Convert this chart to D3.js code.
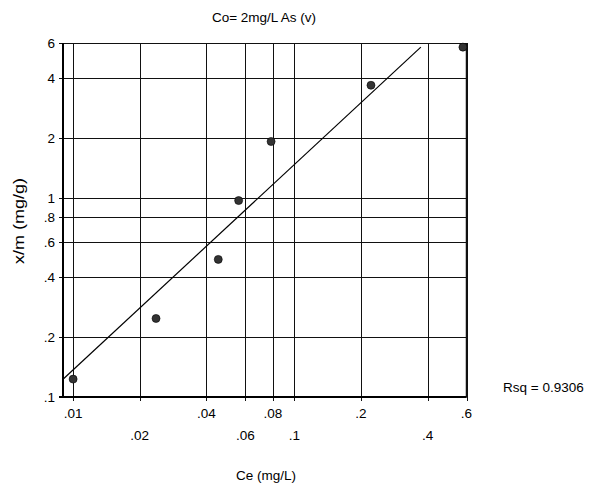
<!DOCTYPE html>
<html>
<head>
<meta charset="utf-8">
<script src="https://cdn.jsdelivr.net/npm/d3@7"></script>
<style>
  body { margin: 0; background: #fff; }
  svg { display: block; font-family: "Liberation Sans", Arial, sans-serif; }
</style>
</head>
<body>
<svg id="chart" width="590" height="486"></svg>
<script>
// data
const ce = [0.01, 0.0237, 0.0453, 0.056, 0.0785, 0.222, 0.578];
const xm = [0.123, 0.248, 0.491, 0.97, 1.92, 3.68, 5.72];
// fitted line end points
const fitCe = [0.009, 0.373];
const fitXm = [0.1227, 5.72];
const xTicks = [0.01, 0.02, 0.04, 0.06, 0.08, 0.1, 0.2, 0.4, 0.6];
const yTicks = [0.1, 0.2, 0.4, 0.6, 0.8, 1, 2, 4, 6];
const rsq = "0.9306";

function fmt(v) {
    var s = String(v);
    if (s.indexOf("0.") == 0) s = s.substring(1);
    return s;
}

const svg = d3.select('#chart');
const pLeft = 63, pRight = 466.5, pTop = 43, pBottom = 397;
const fs = 13.5;

var x = d3.scaleLog().domain([0.009, 0.6]).range([pLeft, pRight]);
var y = d3.scaleLog().domain([0.1, 6]).range([pBottom, pTop]);

// gridlines
svg.append('g').selectAll('line').data(xTicks).enter().append('line')
    .attr('x1', d => Math.round(x(d)) + 0.5).attr('x2', d => Math.round(x(d)) + 0.5)
    .attr('y1', pTop).attr('y2', pBottom + 4)
    .attr('stroke', '#111').attr('stroke-width', 1);

svg.append('g').selectAll('line').data(yTicks).enter().append('line')
    .attr('x1', pLeft - 4).attr('x2', pRight)
    .attr('y1', d => Math.round(y(d)) + 0.5).attr('y2', d => Math.round(y(d)) + 0.5)
    .attr('stroke', '#111').attr('stroke-width', 1);

// frame
svg.append('line').attr('x1', pLeft).attr('x2', pRight).attr('y1', pTop + 0.5).attr('y2', pTop + 0.5)
    .attr('stroke', '#111');
svg.append('line').attr('x1', pRight).attr('x2', pRight).attr('y1', pTop).attr('y2', pBottom)
    .attr('stroke', '#111').attr('stroke-width', 1.5);
svg.append('line').attr('x1', pLeft).attr('x2', pLeft).attr('y1', pTop).attr('y2', pBottom + 1)
    .attr('stroke', '#000').attr('stroke-width', 2);
svg.append('line').attr('x1', pLeft - 4).attr('x2', pRight).attr('y1', pBottom).attr('y2', pBottom)
    .attr('stroke', '#000').attr('stroke-width', 2);

// tick labels
svg.append('g').selectAll('text').data(yTicks).enter().append('text')
    .attr('x', 55).attr('y', d => y(d) + 5)
    .attr('text-anchor', 'end').attr('font-size', fs)
    .text(d => fmt(d));

svg.append('g').selectAll('text').data(xTicks).enter().append('text')
    .attr('x', d => x(d))
    .attr('y', (d, i) => i % 2 == 0 ? 418 : 440)
    .attr('text-anchor', 'middle').attr('font-size', fs)
    .text(d => fmt(d));

// fit line
svg.append('line')
    .attr('x1', x(fitCe[0])).attr('y1', y(fitXm[0]))
    .attr('x2', x(fitCe[1])).attr('y2', y(fitXm[1]))
    .attr('stroke', '#000').attr('stroke-width', 1.2);

// points
svg.append('g').selectAll('circle').data(ce).enter().append('circle')
    .attr('cx', d => x(d))
    .attr('cy', (d, i) => y(xm[i]))
    .attr('r', 4)
    .attr('fill', '#333').attr('stroke', '#000').attr('stroke-width', 0.6);

// titles
svg.append('text').attr('x', 264).attr('y', 22).attr('text-anchor', 'middle')
    .attr('font-size', fs).text('Co= 2mg/L As (v)');
svg.append('text').attr('x', 266).attr('y', 480).attr('text-anchor', 'middle')
    .attr('font-size', fs).text('Ce (mg/L)');
svg.append('text').attr('transform', 'translate(24,221) rotate(-90)').attr('text-anchor', 'middle')
    .attr('font-size', 15).attr('textLength', 86).attr('lengthAdjust', 'spacingAndGlyphs')
    .text('x/m (mg/g)');
svg.append('text').attr('x', 503).attr('y', 392)
    .attr('font-size', fs).text('Rsq = ' + rsq);
</script>
</body>
</html>
